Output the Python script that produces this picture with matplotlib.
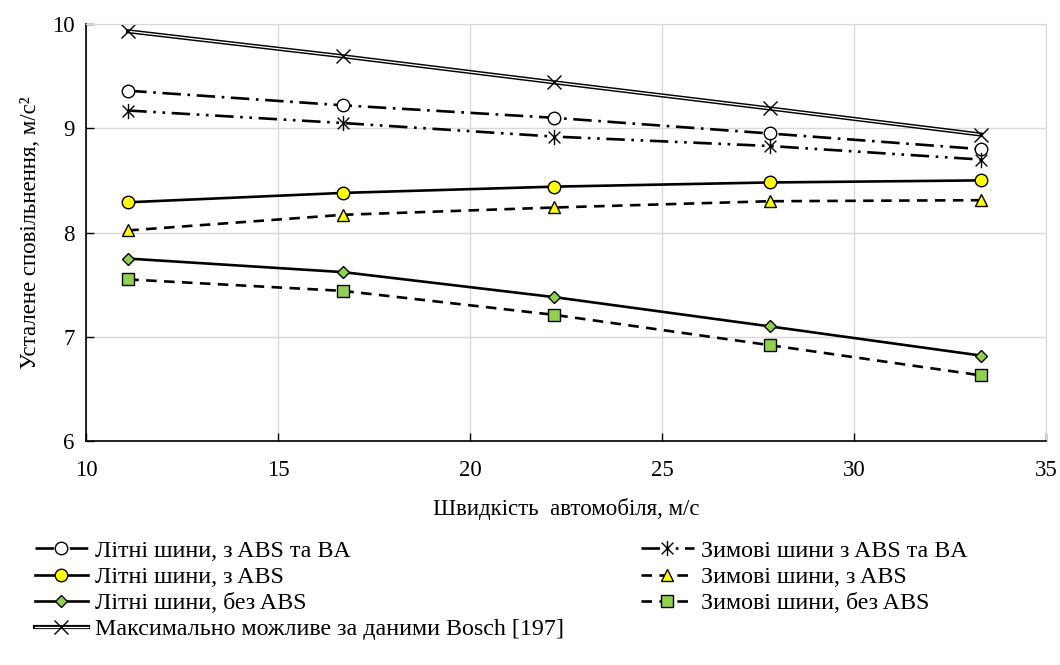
import matplotlib
matplotlib.use('Agg')
import matplotlib.pyplot as plt
import matplotlib.patheffects as pe
from matplotlib.path import Path
from matplotlib.legend_handler import HandlerTuple

plt.rcParams['font.family'] = ['Liberation Serif', 'DejaVu Serif']

# швидкість, м/с
speed = [11.1, 16.7, 22.2, 27.8, 33.3]

summer_abs_ba = [9.36, 9.22, 9.10, 8.95, 8.80]
winter_abs_ba = [9.17, 9.05, 8.92, 8.83, 8.70]
summer_abs = [8.29, 8.38, 8.44, 8.48, 8.50]
winter_abs = [8.02, 8.17, 8.24, 8.30, 8.31]
summer_no_abs = [7.75, 7.62, 7.38, 7.10, 6.82]
winter_no_abs = [7.55, 7.44, 7.21, 6.92, 6.63]
bosch = [9.93, 9.69, 9.44, 9.19, 8.94]

labels_left = ['Літні шини, з ABS та BA', 'Літні шини, з ABS',
               'Літні шини, без ABS', 'Максимально можливе за даними Bosch [197]']
labels_right = ['Зимові шини з ABS та BA', 'Зимові шини, з ABS',
                'Зимові шини, без ABS']

# asterisk like in Excel: x + vertical bar
star = Path([(-1, -1), (1, 1), (-1, 1), (1, -1), (0, -1.3), (0, 1.3)],
            [Path.MOVETO, Path.LINETO, Path.MOVETO, Path.LINETO, Path.MOVETO, Path.LINETO])

fs = 16.5
fig = plt.figure(figsize=(10.6, 6.65), dpi=100)
ax = fig.add_axes([0.0811, 0.3368, 0.9057, 0.6271])

lw = 1.9
l1, = ax.plot(speed, summer_abs_ba, color='black', lw=lw, dashes=(7, 2.5, 1, 2.5),
              marker='o', ms=9, mfc='white', mec='black', mew=1)
l2, = ax.plot(speed, winter_abs_ba, color='black', lw=lw, dashes=(7, 2.5, 1, 2.5, 1, 2.5),
              marker=star, ms=11, mec='black', mew=1)
l3, = ax.plot(speed, summer_abs, color='black', lw=lw, marker='o', ms=9,
              mfc='#FFFF00', mec='black', mew=1)
l4, = ax.plot(speed, winter_abs, color='black', lw=lw, dashes=(4, 2.8),
              marker='^', ms=9, mfc='#FFFF00', mec='black', mew=1)
l5, = ax.plot(speed, summer_no_abs, color='black', lw=lw, marker='D', ms=6.5,
              mfc='#92D050', mec='black', mew=1)
l6, = ax.plot(speed, winter_no_abs, color='black', lw=lw, dashes=(4, 2.8),
              marker='s', ms=8.5, mfc='#92D050', mec='black', mew=1)
# подвійна лінія
l7a, = ax.plot(speed, bosch, color='white', lw=0.9,
               path_effects=[pe.Stroke(linewidth=3.0, foreground='black'), pe.Normal()])
l7b, = ax.plot(speed, bosch, ls='none', marker='x', ms=10.5, mec='black', mew=1)

ax.set_xlim(10, 35)
ax.set_ylim(6, 10)
ax.set_xticks([10, 15, 20, 25, 30, 35])
ax.set_yticks([6, 7, 8, 9, 10])
ax.grid(True, color='#D9D9D9', lw=1)
ax.set_axisbelow(True)
ax.tick_params(direction='in', length=6, width=1, labelsize=fs)
ax.tick_params(axis='x', pad=14)
ax.tick_params(axis='y', pad=8)
for s in ['top', 'right']:
    ax.spines[s].set_color('#D9D9D9')
for s in ['left', 'bottom']:
    ax.spines[s].set_color('black')
    ax.spines[s].set_linewidth(1.2)

ax.set_xlabel('Швидкість  автомобіля, м/с', fontsize=fs, labelpad=12)
ax.set_ylabel('Усталене сповільнення, м/с²', fontsize=fs, labelpad=8)

leg_kw = dict(frameon=False, fontsize=17.3, handlelength=2.2, handletextpad=0.3,
              labelspacing=0.18, borderaxespad=0, borderpad=0)
leg1 = fig.legend([l1, l3, l5, (l7a, l7b)], labels_left, loc='upper left',
                  bbox_to_anchor=(0.033, 0.188), **leg_kw,
                  handler_map={tuple: HandlerTuple(ndivide=1)})
leg2 = fig.legend([l2, l4, l6], labels_right, loc='upper left',
                  bbox_to_anchor=(0.6047, 0.188), **leg_kw)

fig.savefig('out.png', dpi=100)
